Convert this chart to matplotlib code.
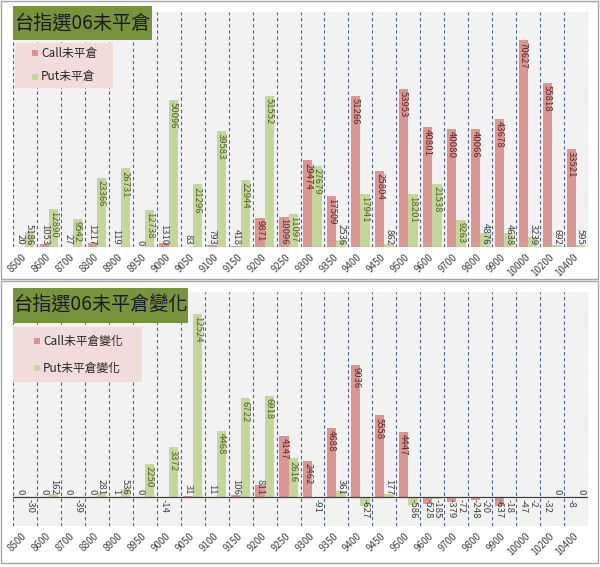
import numpy as np
import matplotlib
matplotlib.use('Agg')
import matplotlib.pyplot as plt
from matplotlib.patches import Rectangle

plt.rcParams['font.family'] = ['Noto Sans CJK TC', 'DejaVu Sans']

# strike prices
strikes = ['8500', '8600', '8700', '8800', '8900', '8950', '9000', '9050',
           '9100', '9150', '9200', '9250', '9300', '9350', '9400', '9450',
           '9500', '9600', '9700', '9800', '9900', '10000', '10200', '10400']

# open interest
call_oi = [20, 1053, 27, 1217, 119, 0, 1310, 83, 793, 418, 9871, 10096,
           29474, 17509, 51266, 25804, 53953, 40801, 40080, 40066, 43678,
           70627, 55818, 33521]
put_oi = [5186, 12890, 9542, 23366, 26731, 12738, 50096, 21296, 39583, 22944,
          51552, 11097, 27679, 2536, 17941, 862, 18201, 21538, 9263, 4876,
          4638, 3239, 692, 595]

# change in open interest
call_chg = [0, 0, 0, 0, 1, 0, -14, 31, 11, 106, 811, 4147, 2462, 4688, 9036,
            5558, 4447, -528, -379, -248, -637, -47, -32, -8]
put_chg = [-30, 162, -39, 281, 536, 2250, 3372, 12524, 4468, 6722, 6918, 2616,
           -91, 361, -627, 177, -586, -185, -72, -20, -18, -2, 0, 0]

CALL_COLOR = '#D99694'
PUT_COLOR = '#C3D69B'
CALL_TEXT = '#632523'
PUT_TEXT = '#4F6228'
OUT_TEXT = '#404040'
GRID = '#4A6690'

W, H = 600, 567
fig = plt.figure(figsize=(6, 5.67), dpi=100)


def px_rect(x0, y0, x1, y1):
    # pixel box (top-left origin) -> figure fraction [left, bottom, width, height]
    return [x0 / W, 1 - y1 / H, (x1 - x0) / W, (y1 - y0) / H]


def bar_label(ax, xpos, v, inner_color, px_per_unit):
    text = str(v)
    need = 5.6 * len(text) + 4
    h = abs(v) * px_per_unit
    if v >= 0:
        if h >= need:
            y, off, va, col = v, -1.5, 'top', inner_color
        else:
            y, off, va, col = 0, 1.5, 'bottom', OUT_TEXT
    else:
        if h >= need:
            y, off, va, col = v, 1.5, 'bottom', inner_color
        else:
            y, off, va, col = 0, -1.5, 'top', OUT_TEXT
    ax.annotate(text, (xpos, y), xytext=(0, off), textcoords='offset points',
                rotation=270, ha='center', va=va, fontsize=6.9, color=col,
                zorder=5)


def draw_panel(box, calls, puts, ymin, ymax, zero_color):
    ax = fig.add_axes(px_rect(*box))
    ax.set_facecolor('#F2F2F2')
    x = np.arange(len(strikes))
    w = 0.39
    ax.bar(x - w / 2, calls, w, color=CALL_COLOR, zorder=2)
    ax.bar(x + w / 2, puts, w, color=PUT_COLOR, zorder=2)
    ax.set_xlim(-0.5, len(strikes) - 0.5)
    ax.set_ylim(ymin, ymax)
    for b in np.arange(len(strikes) + 1) - 0.5:
        ax.axvline(b, color=GRID, lw=0.8, ls=(0, (3, 2.5)), zorder=1)
    ax.axhline(0, color=zero_color, lw=0.9, zorder=3)
    ax.set_yticks([])
    ax.set_xticks(x)
    ax.set_xticklabels(strikes, rotation=45, ha='right', va='center',
                       rotation_mode='anchor', fontsize=7, color=OUT_TEXT)
    ax.tick_params(axis='x', length=0, pad=6)
    for s in ax.spines.values():
        s.set_visible(False)
    px_per_unit = (box[3] - box[1]) / (ymax - ymin)
    for i in range(len(strikes)):
        bar_label(ax, x[i] - w / 2, calls[i], CALL_TEXT, px_per_unit)
        bar_label(ax, x[i] + w / 2, puts[i], PUT_TEXT, px_per_unit)
    return ax


def title_box(box, text):
    l, b, wd, ht = px_rect(*box)
    fig.patches.append(Rectangle((l, b), wd, ht, transform=fig.transFigure,
                                 facecolor='#77933C', edgecolor='none', zorder=10))
    fig.text(l + wd / 2, b + ht / 2, text, ha='center', va='center',
             fontsize=13.8, color='#1A1A1A', zorder=11)


def legend_box(box, names, rows):
    l, b, wd, ht = px_rect(*box)
    fig.patches.append(Rectangle((l, b), wd, ht, transform=fig.transFigure,
                                 facecolor='#F2DCDB', edgecolor='none', zorder=10))
    for name, color, (mx, my) in zip(names, [CALL_COLOR, PUT_COLOR], rows):
        fig.patches.append(Rectangle(((mx - 3) / W, 1 - (my + 3) / H), 6 / W, 6 / H,
                                     transform=fig.transFigure, facecolor=color,
                                     edgecolor='none', zorder=11))
        fig.text((mx + 6) / W, 1 - my / H, name, ha='left', va='center',
                 fontsize=8.5, color='#262626', zorder=11)


# outer frames
for fb in [(1, 1, 598, 279), (1, 281, 598, 563)]:
    l, b, wd, ht = px_rect(*fb)
    fig.patches.append(Rectangle((l, b), wd, ht, transform=fig.transFigure,
                                 fill=False, edgecolor='#A6A6A6', lw=1))

draw_panel((13, 12, 588, 247), call_oi, put_oi, 0, 80000, '#A6A6A6')
draw_panel((13, 292, 588, 526), call_chg, put_chg, -2000, 14000, '#404040')

title_box((13, 6, 152, 40), '台指選06未平倉')
legend_box((15, 43, 113, 88), ['Call未平倉', 'Put未平倉'], [(35, 53), (35, 77)])

title_box((13, 288, 188, 323), '台指選06未平倉變化')
legend_box((13, 327, 142, 382), ['Call未平倉變化', 'Put未平倉變化'], [(37, 341), (37, 368)])

fig.savefig('out.png', dpi=100)
